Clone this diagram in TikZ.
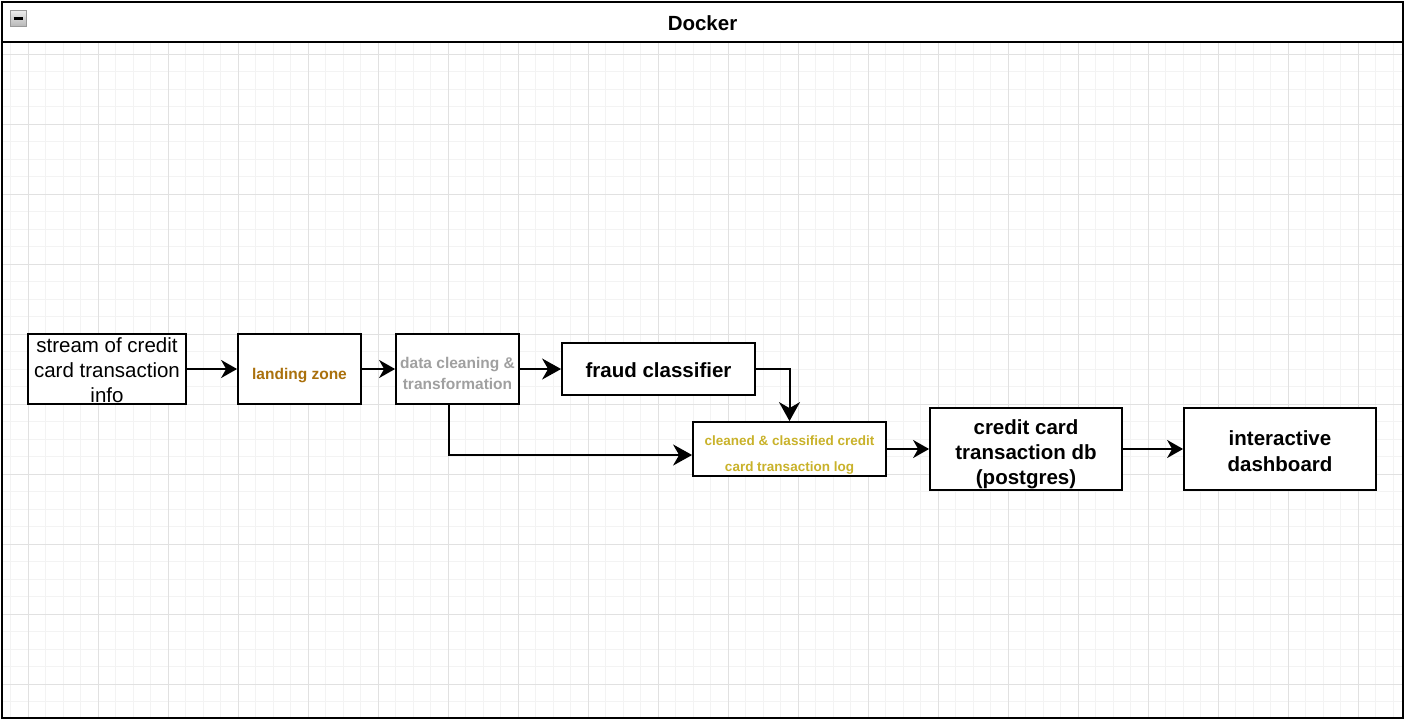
\documentclass[tikz,border=0pt]{standalone}
\usepackage{xcolor}
\usepackage{fontspec}
\setmainfont{Liberation Sans}
\usepackage{tikz}
\usetikzlibrary{calc}
\usetikzlibrary{arrows.meta}

\definecolor{landingcol}{RGB}{170,112,12}
\definecolor{cleancol}{RGB}{160,160,160}
\definecolor{logcol}{RGB}{201,178,42}
\definecolor{gridminor}{RGB}{243,243,243}
\definecolor{gridmajor}{RGB}{225,225,225}

\newcommand{\topgap}[1]{\rule{0pt}{#1}}

\begin{document}
\begin{tikzpicture}[x=1pt,y=-1pt]
    \tikzstyle{minor line}=[gridminor,line width=1pt]
    \tikzstyle{major line}=[gridmajor,line width=1pt]
    \tikzstyle{frame}=[black,line width=2pt]
    \tikzstyle{box}=[draw,black,line width=1.8pt,fill=white,align=center,inner sep=0pt]
    \tikzstyle{plain text}=[font=\fontsize{20.5}{25}\selectfont]
    \tikzstyle{bold text}=[font=\fontsize{20.5}{25}\selectfont\bfseries]
    \tikzstyle{small bold}=[font=\fontsize{15.5}{21}\selectfont\bfseries]
    \tikzstyle{flow}=[-{Stealth[length=16pt,width=18pt,inset=5pt]},line width=2pt]
    \tikzstyle{big flow}=[-{Stealth[length=19pt,width=21pt,inset=6pt]},line width=2pt]

    \useasboundingbox (0,0) rectangle (1405,720);
    \fill[white] (0,0) rectangle (1405,720);

    % Grid
    \foreach \i in {0,...,79}
        \draw[style=minor line] ({10.8+17.5*\i},42) -- ({10.8+17.5*\i},718);
    \foreach \j in {0,...,37}
        \draw[style=minor line] (2,{54.3+17.5*\j}) -- (1403,{54.3+17.5*\j});
    \foreach \i in {0,...,19}
        \draw[style=major line] ({28.3+70*\i},42) -- ({28.3+70*\i},718);
    \foreach \j in {0,...,9}
        \draw[style=major line] (2,{54.3+70*\j}) -- (1403,{54.3+70*\j});

    % Container
    \draw[style=frame] (2,2) rectangle (1403,718);
    \draw[style=frame] (2,42) -- (1403,42);
    \node[font=\fontsize{20.5}{24}\selectfont\bfseries] (docker) at (702.5,23) {Docker};
    \draw[gray!80,top color=gray!15,bottom color=gray!55,line width=1pt] (10.5,10.5) rectangle (26,26);
    \draw[black,line width=2.8pt] (13.5,18.2) -- (23,18.2);

    % Boxes
    \node[style=box,style=plain text,minimum width=158,minimum height=70] (stream) at (107,369)
        {\topgap{18pt}stream of credit\\card transaction\\info};
    \node[style=box,style=small bold,text=landingcol,minimum width=123,minimum height=70] (landing) at (299.5,369)
        {\topgap{23.5pt}landing zone};
    \node[style=box,style=small bold,text=cleancol,minimum width=123,minimum height=70] (clean) at (457.5,369)
        {\topgap{19.5pt}data cleaning \&\\transformation};
    \node[style=box,style=bold text,minimum width=193,minimum height=52] (fraud) at (658.5,369)
        {\topgap{17pt}fraud classifier};
    \node[style=box,font=\fontsize{13.5}{26}\selectfont\bfseries,text=logcol,minimum width=193,minimum height=54] (log) at (789.5,449)
        {\topgap{22pt}cleaned \& classified credit\\card transaction log};
    \node[style=box,style=bold text,minimum width=192,minimum height=82] (db) at (1026,449)
        {\topgap{25pt}credit card\\transaction db\\(postgres)};
    \node[style=box,font=\fontsize{20.5}{26}\selectfont\bfseries,minimum width=192,minimum height=82] (dash) at (1280,449)
        {\topgap{19pt}interactive\\dashboard};

    % Flow
    \draw[style=flow] (stream) -- (landing);
    \draw[style=flow] (landing) -- (clean);
    \draw[style=big flow] (clean) -- (fraud);
    \draw[style=big flow] (fraud.east) -| (log.north);
    \draw[style=big flow] ($(clean.south)+(-8.5,0)$) |- ($(log.west)+(0,6)$);
    \draw[style=flow] (log) -- (db);
    \draw[style=flow] (db) -- (dash);

\end{tikzpicture}
\end{document}
